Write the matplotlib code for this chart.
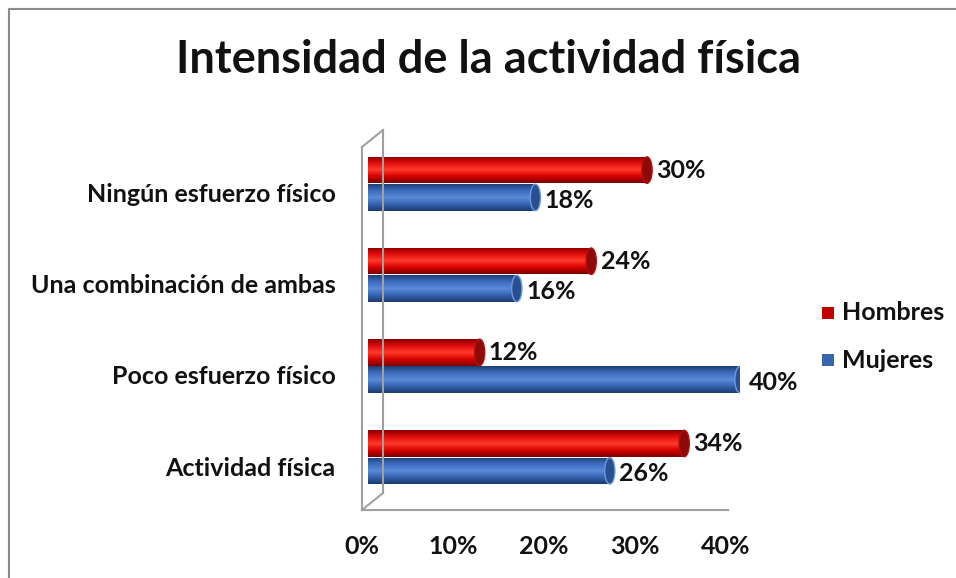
import numpy as np
import matplotlib
matplotlib.use("Agg")
import matplotlib.pyplot as plt
from matplotlib.lines import Line2D
from matplotlib.patches import Ellipse, Rectangle
from matplotlib.colors import LinearSegmentedColormap

categories = ["Actividad física", "Poco esfuerzo físico", "Una combinación de ambas", "Ningún esfuerzo físico"]
hombres = [34, 12, 24, 30]
mujeres = [26, 40, 16, 18]
xticks = [0, 10, 20, 30, 40]
xticklabels = ["0%", "10%", "20%", "30%", "40%"]

W, H = 956, 578
fig = plt.figure(figsize=(W / 100, H / 100), dpi=100)
plt.rcParams['font.family'] = ['Lato', 'DejaVu Sans']

def fx(px):
    return px / W

def fy(py):
    return 1 - py / H

ax = fig.add_axes([fx(368), fy(510), fx(740) - fx(368), fy(130) - fy(510)])
ax.set_xlim(0, 40)
ax.set_ylim(-0.58, 3.59)
ax.axis("off")

red_cols = ["#8a0000", "#e00c0c", "#ff3a2a", "#d80000", "#7a0000"]
blue_cols = ["#1f3f75", "#3d6cc0", "#5b8ad8", "#3563b0", "#1c3a6e"]
red_cap = "#8c0a0a"
blue_cap = "#2a4f8f"

bh = 0.29
y = np.arange(len(categories))

def cylinder(bars, cols, capcol, edgecol):
    cmap = LinearSegmentedColormap.from_list("c", cols[::-1])
    grad = np.linspace(0, 1, 100).reshape(-1, 1)
    for b in bars:
        x0, w = b.get_x(), b.get_width()
        y0, h = b.get_y(), b.get_height()
        b.set_alpha(0)
        im = ax.imshow(grad, cmap=cmap, aspect="auto", origin="lower",
                       extent=[x0, x0 + w, y0, y0 + h], zorder=2, interpolation="bilinear")
        clip = Rectangle((x0, y0), w, h, transform=ax.transData)
        im.set_clip_path(clip)
        ew = 1.1
        ax.add_patch(Ellipse((x0, y0 + h / 2), ew, h, facecolor=cols[1], edgecolor="none", zorder=1.9))
        ax.add_patch(Ellipse((x0 + w, y0 + h / 2), ew, h, facecolor=capcol,
                             edgecolor=edgecol, lw=1.0, zorder=3))

bars_h = ax.barh(y + 0.15, hombres, height=bh)
bars_m = ax.barh(y - 0.15, mujeres, height=bh)
cylinder(bars_h, red_cols, red_cap, "#b01010")
cylinder(bars_m, blue_cols, blue_cap, "#6a9be0")
ax.set_xlim(0, 40)
ax.set_ylim(-0.58, 3.59)

FS = 18
for b, v in zip(bars_h, hombres):
    ax.text(b.get_width() + 1.0, b.get_y() + b.get_height() / 2, f"{v}%",
            va="center", ha="left", fontsize=FS, fontweight="bold", color="#111111")
for b, v in zip(bars_m, mujeres):
    ax.text(b.get_width() + 1.0, b.get_y() + b.get_height() / 2 - 0.03, f"{v}%",
            va="center", ha="left", fontsize=FS, fontweight="bold", color="#111111")

# category labels (shifted for the 3D projection)
for yi, c in zip(y, categories):
    ax.text(-3.5, yi - 0.12, c, ha="right", va="center", fontsize=FS, fontweight="bold", color="#111111")

# x tick labels (3D-projected offset)
for t, lab in zip(xticks, xticklabels):
    ax.text(t * 0.978 - 0.65, -0.98, lab, ha="center", va="center", fontsize=FS,
            fontweight="bold", color="#111111")

# 3D wall decoration
gray = "#a0a0a0"
for (x1, y1, x2, y2) in [(362, 147, 362, 510), (383, 130, 383, 493), (362, 147, 383, 130),
                         (362, 510, 383, 493), (362, 510, 728, 510)]:
    fig.add_artist(Line2D([fx(x1), fx(x2)], [fy(y1), fy(y2)], color=gray, lw=1.5))

# figure border
fig.add_artist(Line2D([fx(9), fx(9), fx(956)], [fy(578), fy(8.5), fy(8.5)], color="#8a8a8a", lw=1.5))

fig.text(fx(489), fy(60), "Intensidad de la actividad física", ha="center", va="center",
         fontsize=32.5, fontweight="bold", color="#111111")

# legend
for (py, col, lab) in [(313, "#c00000", "Hombres"), (360, "#3a66b0", "Mujeres")]:
    fig.add_artist(Rectangle((fx(822), fy(py + 6)), fx(12), fy(0) - fy(12), facecolor=col,
                             edgecolor="none", transform=fig.transFigure))
    fig.text(fx(842), fy(py), lab, ha="left", va="center", fontsize=FS, fontweight="bold", color="#111111")

fig.savefig("out.png", dpi=100)
